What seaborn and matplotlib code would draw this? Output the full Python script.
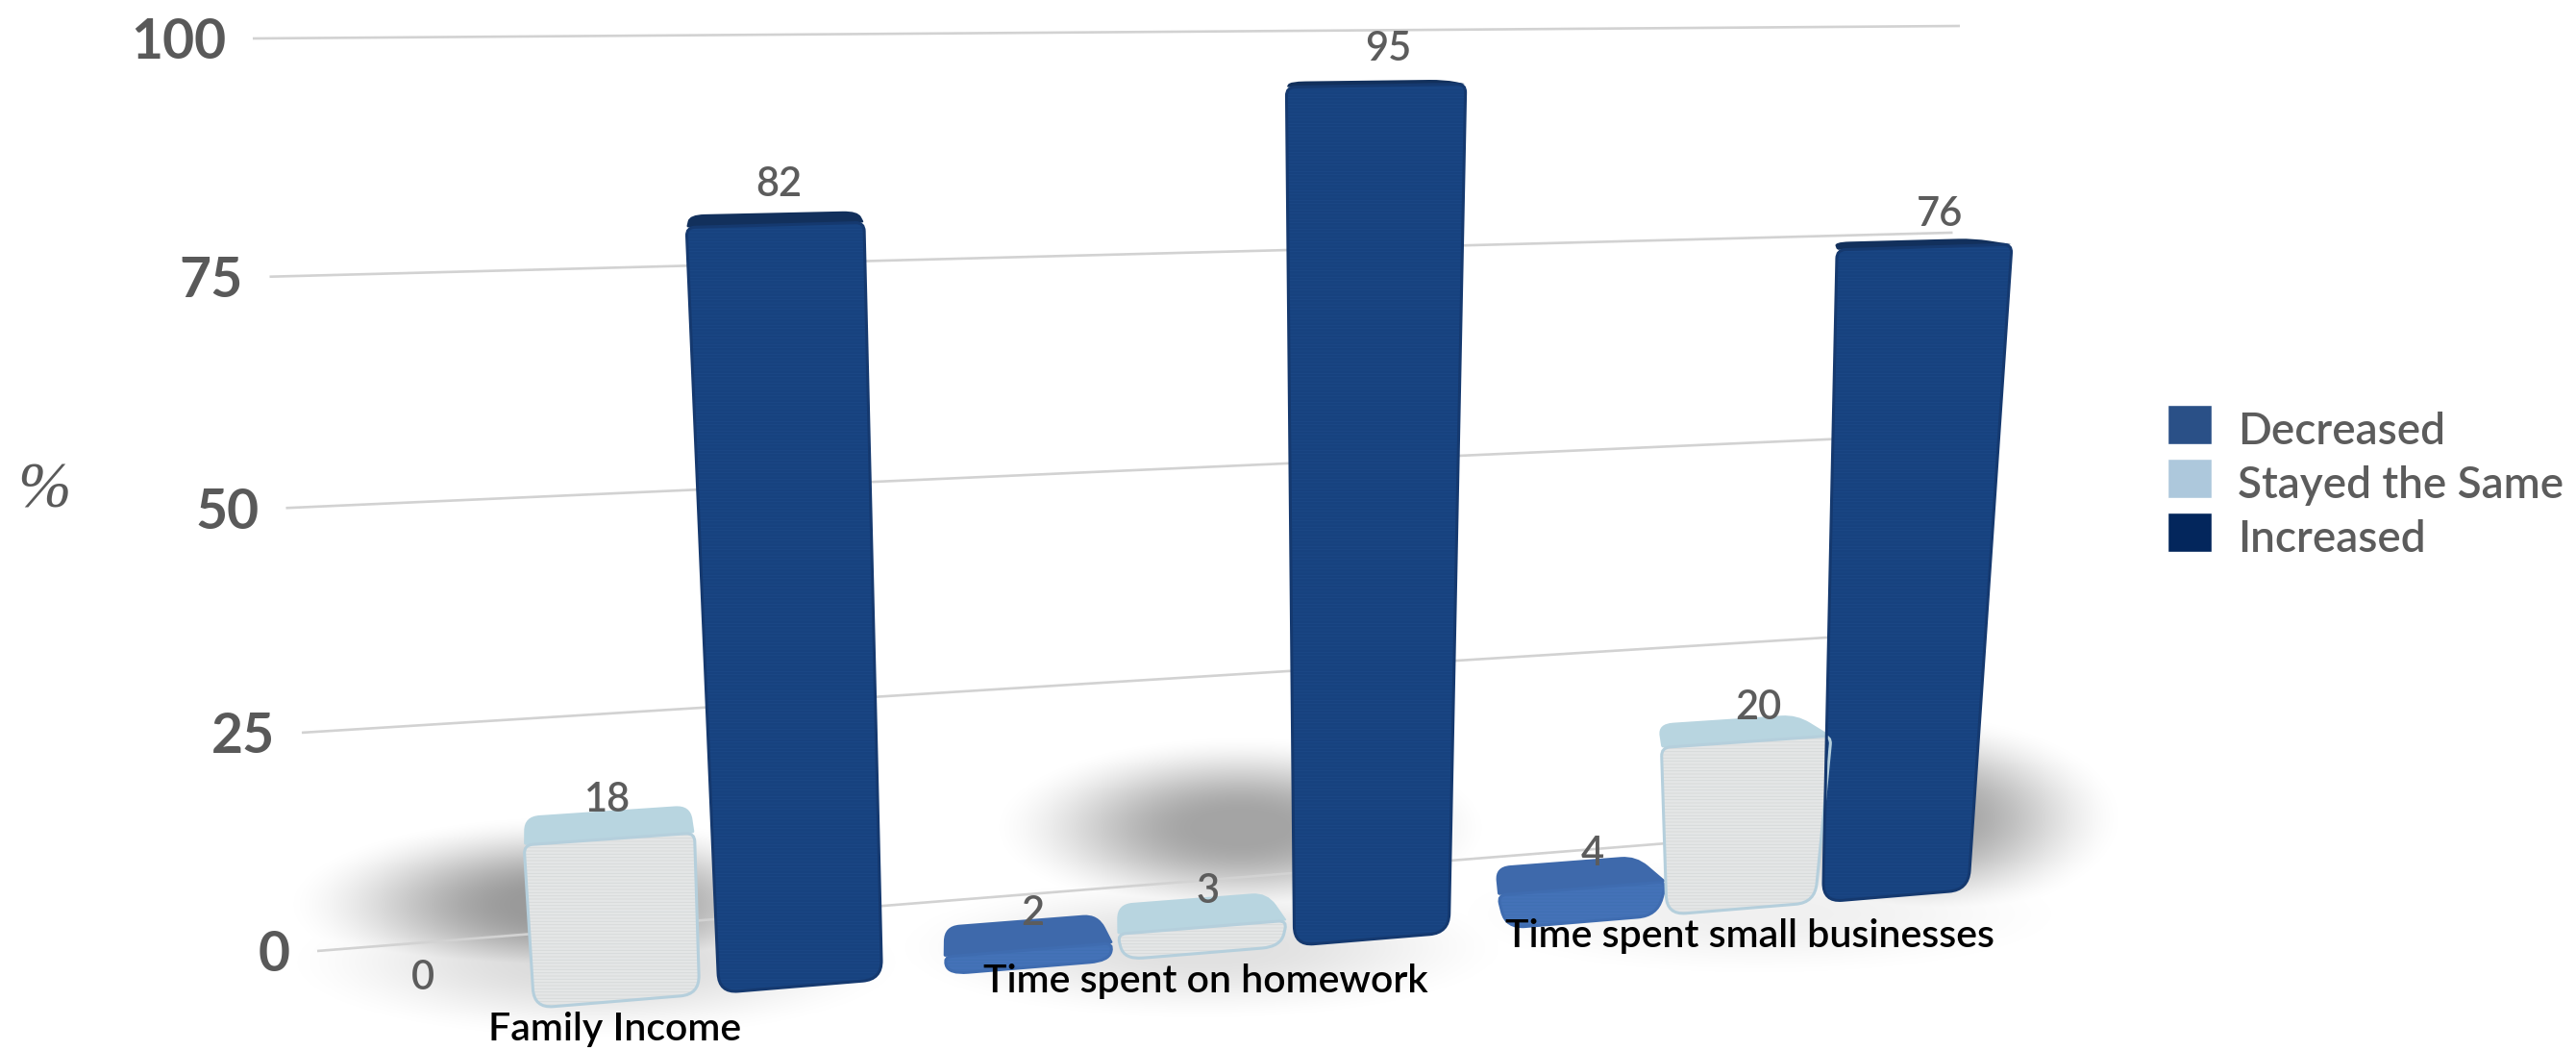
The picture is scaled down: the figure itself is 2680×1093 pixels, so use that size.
import numpy as np
import pandas as pd
import matplotlib
matplotlib.use('Agg')
import matplotlib.pyplot as plt
import matplotlib.transforms as mtransforms
from matplotlib.path import Path
from matplotlib.patches import PathPatch
import seaborn as sns

W, H = 2680, 1093

categories = ['Family Income', 'Time spent on homework', 'Time spent small businesses']
statuses = ['Decreased', 'Stayed the Same', 'Increased']
decreased = [0, 2, 4]
stayed = [18, 3, 20]
increased = [82, 95, 76]
y_ticks = [0, 25, 50, 75, 100]

legend_colors = ['#2a5087', '#adc8dc', '#03265c']
front_colors = ['#4472b8', '#e4e6e6', '#17427f']
texture_colors = ['#4070b2', '#d6d9da', '#1b4886']
top_colors = ['#3e69ab', '#b8d5e0', '#12305c']
edge_colors = ['#3f6cb0', '#b5cfdc', '#15396f']

# perspective of the picture: (category position, value) -> pixel, for the front
# and back of the bars and for the wall with the gridlines
FRONT = np.array([[663.1426782, -0.8494409, 642.4724311], [-7.0887344, -9.9302081, 1041.2462298], [0.043423, -0.0006363, 1.0]])
BACK = np.array([[658.660747, -0.7963878, 639.4895336], [-3.3177773, -9.6808384, 1007.8248118], [0.0462136, -0.0006318, 1.0]])
WALL = np.array([[1975.5134813, -0.818476, 330.0], [-8.2965042, -9.5125819, 989.0], [0.1470216, -0.0005645, 1.0]])
FRONT_X = [642.13046, 633.83404, -24.55268, -0.43508, 0.3856, -0.01076]


def to_pixels(matrix, xy, x_poly=None):
    xy = np.atleast_2d(np.asarray(xy, float))
    q = np.c_[xy, np.ones(len(xy))] @ matrix.T
    p = q[:, :2] / q[:, 2:]
    if x_poly is not None:
        x, v = xy[:, 0], xy[:, 1]
        p[:, 0] = np.c_[np.ones_like(x), x, x * x, v, x * v, x * x * v] @ np.array(x_poly)
    return p


class Plane(mtransforms.Transform):
    input_dims = output_dims = 2

    def __init__(self, matrix, x_poly=None):
        super().__init__()
        self.matrix = matrix
        self.x_poly = x_poly

    def transform_non_affine(self, xy):
        return to_pixels(self.matrix, xy, self.x_poly) / (W, -H) + (0, 1)


def project_front(x, v):
    return to_pixels(FRONT, (x, v), FRONT_X)[0]


def project_back(x, v):
    return to_pixels(BACK, (x, v))[0]


def rounded(corners, radii):
    verts, codes = [], []
    n = len(corners)
    for i, c in enumerate(corners):
        c = np.asarray(c, float)
        a, b = np.asarray(corners[i - 1], float), np.asarray(corners[(i + 1) % n], float)
        ra = min(radii[i], np.linalg.norm(a - c) / 2)
        rb = min(radii[i], np.linalg.norm(b - c) / 2)
        verts += [c + ra * (a - c) / np.linalg.norm(a - c), c, c + rb * (b - c) / np.linalg.norm(b - c)]
        codes += [Path.MOVETO if i == 0 else Path.LINETO, Path.CURVE3, Path.CURVE3]
    verts.append(verts[0])
    codes.append(Path.CLOSEPOLY)
    return Path(verts, codes)


df = pd.DataFrame({
    'category': categories * 3,
    'status': np.repeat(statuses, 3),
    'value': decreased + stayed + increased,
})

sns.set_theme(style='white')
plt.rcParams['font.family'] = ['Lato', 'DejaVu Sans']
plt.rcParams['hatch.linewidth'] = 0.6

fig = plt.figure(figsize=(W / 100, H / 100), dpi=100)
ax = fig.add_axes([0, 0, 1, 1])
sns.barplot(data=df, x='category', y='value', hue='status', order=categories, hue_order=statuses,
            palette=legend_colors, saturation=1, width=0.915, gap=0.11, ax=ax)
ax.axis('off')
pixels = mtransforms.Affine2D().scale(1 / W, -1 / H).translate(0, 1) + ax.transAxes

# soft floor shadows
yy, xx = np.mgrid[0:H, 0:W]
alpha = np.zeros((H, W))
for cx, cy, rx, ry, peak in [(590, 940, 300, 95, .40), (1290, 860, 265, 98, .36), (1990, 850, 225, 112, .36),
                             (620, 1000, 340, 85, .14), (1250, 985, 340, 80, .12), (1830, 950, 350, 70, .06)]:
    t = np.clip((1 - np.hypot((xx - cx) / rx, (yy - cy) / ry)) / 0.85, 0, 1)
    alpha = np.maximum(alpha, peak * t * t * (3 - 2 * t))
shadow = np.zeros((H, W, 4))
shadow[..., 3] = alpha
xlim, ylim = ax.get_xlim(), ax.get_ylim()
ax.imshow(shadow, extent=(0, 1, 0, 1), transform=ax.transAxes, aspect='auto', zorder=0)
ax.set_xlim(xlim)
ax.set_ylim(ylim)

wall = Plane(WALL) + ax.transAxes
for v in y_ticks:
    ax.plot([0, 1], [v, v], color='#d2d2d2', lw=1.9, transform=wall, zorder=1, solid_capstyle='butt')
    ax.annotate(str(v), xy=(0, v), xycoords=wall, xytext=(-28, -5), textcoords='offset pixels',
                ha='right', va='center', fontsize=41, color='#595959', weight='bold')

front = Plane(FRONT, FRONT_X) + ax.transAxes
back = Plane(BACK) + ax.transAxes
for i, bars in enumerate(ax.containers):
    for bar in bars:
        half, v = bar.get_width() / 2, bar.get_height()
        xc = bar.get_x() + half
        ax.annotate(f'{v:.0f}', xy=(xc, v), xycoords=back, xytext=(16 * xc, 6 + 0.28 * v),
                    textcoords='offset pixels', ha='center', va='center', fontsize=30, color='#5c5c5c',
                    weight='semibold', zorder=6)
        if v == 0:
            bar.set_visible(False)
            continue
        # the bars widen towards the top and towards the right of the picture
        low = half * (1 + 0.03 * xc)
        high = half * (1.02 + 0.09 * xc)
        fb = [project_front(xc - low, 0), project_front(xc + low, 0),
              project_front(xc + high, v), project_front(xc - high, v)]
        bt = [project_back(xc - half, v), project_back(xc + half, v)]
        ax.add_patch(PathPatch(rounded([fb[3], fb[2], bt[1], bt[0]], [2, 2, 16, 16]), fc=top_colors[i],
                               ec='none', zorder=3.1, transform=pixels))
        outline = rounded(fb, [20, 20, 9, 9])
        bar.set_x(xc - high)
        bar.set_width(2 * high)
        bar.set_transform(front)
        bar.set_facecolor(front_colors[i])
        bar.set_edgecolor(texture_colors[i])
        bar.set_linewidth(0)
        bar.set_hatch('-----')
        bar.set_zorder(3.2)
        bar.set_clip_path(outline, pixels)
        ax.add_patch(PathPatch(outline, fc='none', ec=edge_colors[i], lw=2.2, zorder=3.3, transform=pixels))

for g, name in enumerate(categories):
    ax.annotate(name, xy=(g, 0), xycoords=front, xytext=(-3 + 6 * g, -29), textcoords='offset pixels',
                ha='center', va='center', fontsize=29.5, color='black', weight='semibold', zorder=7)

ax.text(46 / W, 1 - 511 / H, '%', transform=ax.transAxes, ha='center', va='center', fontsize=48,
        color='#5a5a5a', family='Liberation Serif', style='italic')

sns.move_legend(ax, 'upper left', bbox_to_anchor=(2255 / W, 1 - 421 / H), frameon=False, title=None,
                fontsize=33, labelcolor='#5c5c5c', handlelength=1.0, handleheight=1.0, labelspacing=0.26,
                handletextpad=0.6, borderpad=0, borderaxespad=0)
for t in ax.get_legend().get_texts():
    t.set_weight('semibold')
    t.set_position((0, -5))

fig.savefig('out.png', dpi=100)
